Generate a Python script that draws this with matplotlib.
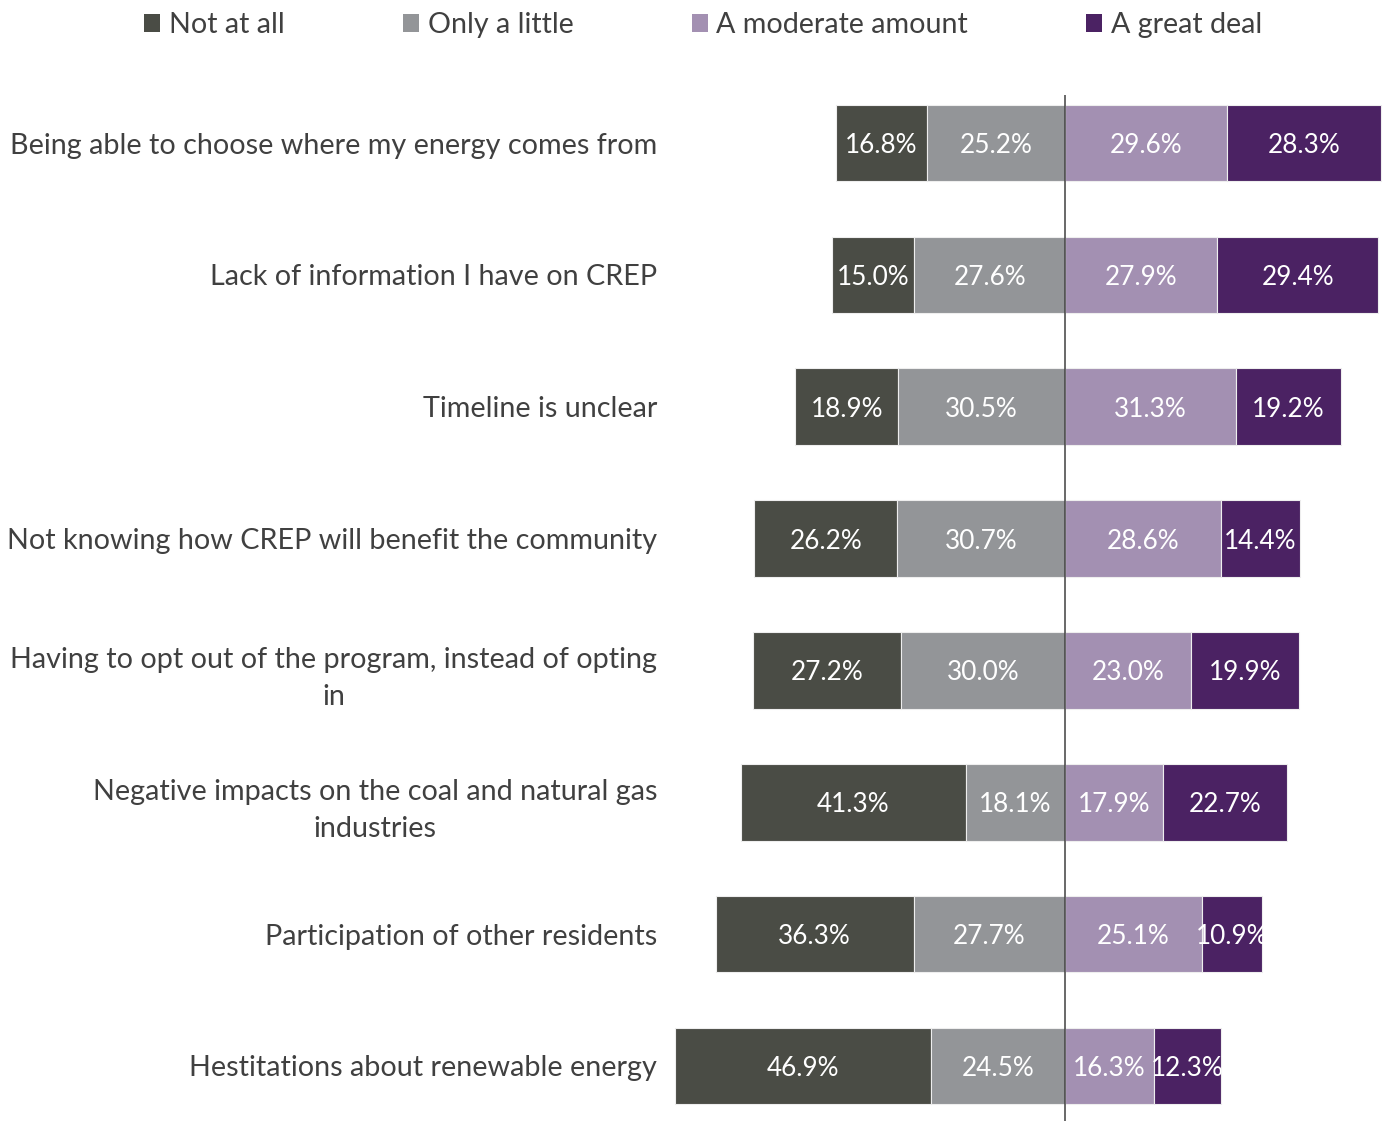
import numpy as np
import matplotlib.pyplot as plt
from matplotlib.patches import Patch

plt.rcParams['font.family'] = ['Lato', 'DejaVu Sans']

CATEGORIES = [
    "Being able to choose where my energy comes from",
    "Lack of information I have on CREP",
    "Timeline is unclear",
    "Not knowing how CREP will benefit the community",
    "Having to opt out of the program, instead of opting\nin",
    "Negative impacts on the coal and natural gas\nindustries",
    "Participation of other residents",
    "Hestitations about renewable energy",
]
NOT_AT_ALL = [16.8, 15.0, 18.9, 26.2, 27.2, 41.3, 36.3, 46.9]
ONLY_A_LITTLE = [25.2, 27.6, 30.5, 30.7, 30.0, 18.1, 27.7, 24.5]
MODERATE = [29.6, 27.9, 31.3, 28.6, 23.0, 17.9, 25.1, 16.3]
GREAT_DEAL = [28.3, 29.4, 19.2, 14.4, 19.9, 22.7, 10.9, 12.3]
SERIES_NAMES = ["Not at all", "Only a little", "A moderate amount", "A great deal"]
COLORS = ["#4a4c45", "#939598", "#a390b2", "#4b2263"]

W, H = 1386, 1121
fig = plt.figure(figsize=(W / 100, H / 100), dpi=100)
ax = fig.add_axes([660 / W, 0, (W - 660) / W, (H - 95) / H])

y = np.arange(len(CATEGORIES))
neg1 = -np.array(ONLY_A_LITTLE)
neg2 = neg1 - np.array(NOT_AT_ALL)
pos1 = np.array(MODERATE)

# negative side: "not at all" outermost, then "only a little" up to the zero line
segments = [
    (NOT_AT_ALL, neg2),
    (ONLY_A_LITTLE, neg1),
    (MODERATE, np.zeros(len(y))),
    (GREAT_DEAL, pos1),
]
for (vals, left), color in zip(segments, COLORS):
    bars = ax.barh(y, vals, left=left, height=0.58, color=color,
                   edgecolor="#eeeeee", linewidth=0.8)
    for b, v in zip(bars, vals):
        ax.text(b.get_x() + b.get_width() / 2, b.get_y() + b.get_height() / 2,
                f"{v:.1f}%", ha="center", va="center_baseline", color="white",
                fontsize=18.8)

ax.axvline(0, color="#404040", lw=1.1)

scale = 5.46
ax.set_xlim(-(1065 - 660) / scale, (W - 1065) / scale)
ax.set_ylim(7 + 55 / 131.8, -48 / 131.8)
ax.set_yticks(y)
ax.set_yticklabels(CATEGORIES, fontsize=20.7, color="#404040",
                   multialignment="center", linespacing=1.55)
ax.tick_params(axis="y", length=0, pad=2)
ax.set_xticks([])
for s in ax.spines.values():
    s.set_visible(False)

handles = [Patch(facecolor=c, edgecolor="none") for c in COLORS]
fs = 20.6
fs_px = fs * 100 / 72
fig.legend(handles, SERIES_NAMES, loc="center left", bbox_to_anchor=(144 / W, 1 - 25 / H),
           ncol=4, frameon=False, fontsize=fs, labelcolor="#404040",
           handlelength=16 / fs_px, handleheight=16 / fs_px,
           handletextpad=9 / fs_px, columnspacing=118 / fs_px,
           borderpad=0, borderaxespad=0)

fig.savefig("out.png", dpi=100)
